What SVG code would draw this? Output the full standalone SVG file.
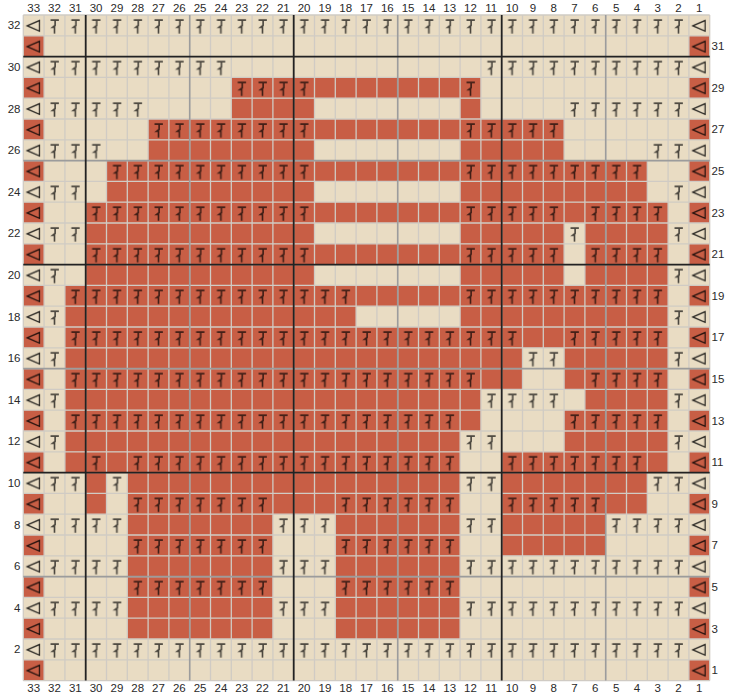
<svg xmlns="http://www.w3.org/2000/svg" width="729" height="696" viewBox="0 0 729 696">
<style>
text{font-family:"Liberation Sans",Arial,Helvetica,sans-serif;font-size:11.5px;fill:#2a2a2a}
.c{text-anchor:middle}
.l{text-anchor:end}
</style>
<defs>
<pattern id="sym" patternUnits="userSpaceOnUse" width="1" height="1">
<path d="M0.31 0.245H0.71M0.53 0.245V0.5L0.41 0.59H0.53M0.5 0.55V0.89" fill="none" stroke="#000" stroke-opacity="0.68" stroke-width="0.078"/>
</pattern>
<pattern id="tri" patternUnits="userSpaceOnUse" width="1" height="1">
<path d="M0.19 0.52L0.78 0.265V0.775Z" fill="none" stroke="#000" stroke-opacity="0.82" stroke-width="0.06"/>
</pattern>
<pattern id="edge" patternUnits="userSpaceOnUse" width="1" height="2">
<rect y="1" width="1" height="1" fill="#C85E45"/>
</pattern>
</defs>
<g id="chart" transform="translate(23.3 15) scale(20.8)">
<rect width="33" height="32" fill="#E9DCC3"/>
<g id="red-cells" fill="#C85E45">
<rect x="10" y="3" width="12" height="1"/>
<rect x="10" y="4" width="4" height="1"/><rect x="21" y="4" width="1" height="1"/>
<rect x="6" y="5" width="20" height="1"/>
<rect x="6" y="6" width="8" height="1"/><rect x="21" y="6" width="5" height="1"/>
<rect x="4" y="7" width="26" height="1"/>
<rect x="4" y="8" width="10" height="1"/><rect x="21" y="8" width="9" height="1"/>
<rect x="3" y="9" width="28" height="1"/>
<rect x="3" y="10" width="11" height="1"/><rect x="21" y="10" width="5" height="1"/><rect x="27" y="10" width="4" height="1"/>
<rect x="3" y="11" width="23" height="1"/><rect x="27" y="11" width="4" height="1"/>
<rect x="3" y="12" width="11" height="1"/><rect x="21" y="12" width="5" height="1"/><rect x="27" y="12" width="4" height="1"/>
<rect x="2" y="13" width="29" height="1"/>
<rect x="2" y="14" width="14" height="1"/><rect x="21" y="14" width="10" height="1"/>
<rect x="2" y="15" width="29" height="1"/>
<rect x="2" y="16" width="22" height="2"/><rect x="26" y="16" width="5" height="2"/>
<rect x="2" y="18" width="20" height="1"/><rect x="27" y="18" width="4" height="1"/>
<rect x="2" y="19" width="20" height="1"/><rect x="26" y="19" width="5" height="1"/>
<rect x="2" y="20" width="19" height="1"/><rect x="26" y="20" width="5" height="1"/>
<rect x="2" y="21" width="19" height="1"/><rect x="23" y="21" width="8" height="1"/>
<rect x="3" y="22" width="1" height="2"/><rect x="5" y="22" width="16" height="2"/><rect x="23" y="22" width="7" height="2"/>
<rect x="5" y="24" width="7" height="2"/><rect x="15" y="24" width="6" height="2"/><rect x="23" y="24" width="5" height="2"/>
<rect x="5" y="26" width="7" height="4"/><rect x="15" y="26" width="6" height="4"/>
</g>
<g id="edge-cells" fill="url(#edge)">
<rect x="0" y="0" width="1" height="32"/><rect x="32" y="0" width="1" height="32"/>
</g>
<g id="grid">
<path fill="none" stroke="#d0cbc4" stroke-width="1.3" vector-effect="non-scaling-stroke" d="M0 0V32M1 0V32M2 0V32M3 0V32M4 0V32M5 0V32M6 0V32M7 0V32M8 0V32M9 0V32M10 0V32M11 0V32M12 0V32M13 0V32M14 0V32M15 0V32M16 0V32M17 0V32M18 0V32M19 0V32M20 0V32M21 0V32M22 0V32M23 0V32M24 0V32M25 0V32M26 0V32M27 0V32M28 0V32M29 0V32M30 0V32M31 0V32M32 0V32M33 0V32M0 0H33M0 1H33M0 2H33M0 3H33M0 4H33M0 5H33M0 6H33M0 7H33M0 8H33M0 9H33M0 10H33M0 11H33M0 12H33M0 13H33M0 14H33M0 15H33M0 16H33M0 17H33M0 18H33M0 19H33M0 20H33M0 21H33M0 22H33M0 23H33M0 24H33M0 25H33M0 26H33M0 27H33M0 28H33M0 29H33M0 30H33M0 31H33M0 32H33"/>
<path fill="none" stroke="#9c9c9c" stroke-width="1.6" vector-effect="non-scaling-stroke" d="M8 0V32M18 0V32M28 0V32M0 7H33M0 17H33M0 27H33"/>
<path fill="none" stroke="#222" stroke-width="1.8" vector-effect="non-scaling-stroke" d="M3 0V32M13 0V32M23 0V32M0 2H33M0 12H33M0 22H33"/>
</g>
<g id="stitches" fill="url(#sym)">
<rect x="1" y="0" width="31" height="1"/>
<rect x="1" y="2" width="9" height="1"/><rect x="22" y="2" width="10" height="1"/>
<rect x="10" y="3" width="4" height="1"/><rect x="21" y="3" width="1" height="1"/>
<rect x="1" y="4" width="5" height="1"/><rect x="26" y="4" width="6" height="1"/>
<rect x="6" y="5" width="8" height="1"/><rect x="21" y="5" width="5" height="1"/>
<rect x="1" y="6" width="3" height="1"/><rect x="30" y="6" width="2" height="1"/>
<rect x="4" y="7" width="10" height="1"/><rect x="21" y="7" width="9" height="1"/>
<rect x="1" y="8" width="2" height="1"/><rect x="31" y="8" width="1" height="1"/>
<rect x="3" y="9" width="11" height="1"/><rect x="21" y="9" width="5" height="1"/><rect x="27" y="9" width="4" height="1"/>
<rect x="1" y="10" width="2" height="1"/><rect x="26" y="10" width="1" height="1"/><rect x="31" y="10" width="1" height="1"/>
<rect x="3" y="11" width="11" height="1"/><rect x="21" y="11" width="5" height="1"/><rect x="27" y="11" width="4" height="1"/>
<rect x="1" y="12" width="1" height="1"/><rect x="31" y="12" width="1" height="1"/>
<rect x="2" y="13" width="14" height="1"/><rect x="21" y="13" width="10" height="1"/>
<rect x="1" y="14" width="1" height="1"/><rect x="31" y="14" width="1" height="1"/>
<rect x="2" y="15" width="22" height="1"/><rect x="26" y="15" width="5" height="1"/>
<rect x="1" y="16" width="1" height="1"/><rect x="24" y="16" width="2" height="1"/><rect x="31" y="16" width="1" height="1"/>
<rect x="2" y="17" width="20" height="1"/><rect x="27" y="17" width="4" height="1"/>
<rect x="1" y="18" width="1" height="1"/><rect x="22" y="18" width="4" height="1"/><rect x="31" y="18" width="1" height="1"/>
<rect x="2" y="19" width="19" height="1"/><rect x="26" y="19" width="5" height="1"/>
<rect x="1" y="20" width="1" height="1"/><rect x="21" y="20" width="2" height="1"/><rect x="31" y="20" width="1" height="1"/>
<rect x="3" y="21" width="1" height="1"/><rect x="5" y="21" width="16" height="1"/><rect x="23" y="21" width="7" height="1"/>
<rect x="1" y="22" width="2" height="1"/><rect x="4" y="22" width="1" height="1"/><rect x="21" y="22" width="2" height="1"/><rect x="30" y="22" width="2" height="1"/>
<rect x="5" y="23" width="7" height="1"/><rect x="15" y="23" width="6" height="1"/><rect x="23" y="23" width="5" height="1"/>
<rect x="1" y="24" width="4" height="1"/><rect x="12" y="24" width="3" height="1"/><rect x="21" y="24" width="2" height="1"/><rect x="28" y="24" width="4" height="1"/>
<rect x="5" y="25" width="7" height="1"/><rect x="15" y="25" width="6" height="1"/>
<rect x="1" y="26" width="4" height="1"/><rect x="12" y="26" width="3" height="1"/><rect x="21" y="26" width="11" height="1"/>
<rect x="5" y="27" width="7" height="1"/><rect x="15" y="27" width="6" height="1"/>
<rect x="1" y="28" width="4" height="1"/><rect x="12" y="28" width="3" height="1"/><rect x="21" y="28" width="11" height="1"/>
<rect x="1" y="30" width="31" height="1"/>
</g>
<g id="edge-marks" fill="url(#tri)">
<rect x="0" y="0" width="1" height="32"/><rect x="32" y="0" width="1" height="32"/>
</g>
</g>
<g id="col-top" class="c">
<text x="33.7" y="12">33</text><text x="54.5" y="12">32</text><text x="75.3" y="12">31</text><text x="96.1" y="12">30</text><text x="116.9" y="12">29</text><text x="137.7" y="12">28</text><text x="158.5" y="12">27</text><text x="179.3" y="12">26</text><text x="200.1" y="12">25</text><text x="220.9" y="12">24</text><text x="241.7" y="12">23</text><text x="262.5" y="12">22</text><text x="283.3" y="12">21</text><text x="304.1" y="12">20</text><text x="324.9" y="12">19</text><text x="345.7" y="12">18</text><text x="366.5" y="12">17</text><text x="387.3" y="12">16</text><text x="408.1" y="12">15</text><text x="428.9" y="12">14</text><text x="449.7" y="12">13</text><text x="470.5" y="12">12</text><text x="491.3" y="12">11</text><text x="512.1" y="12">10</text><text x="532.9" y="12">9</text><text x="553.7" y="12">8</text><text x="574.5" y="12">7</text><text x="595.3" y="12">6</text><text x="616.1" y="12">5</text><text x="636.9" y="12">4</text><text x="657.7" y="12">3</text><text x="678.5" y="12">2</text><text x="699.3" y="12">1</text>
</g>
<g id="col-bottom" class="c">
<text x="33.7" y="692.4">33</text><text x="54.5" y="692.4">32</text><text x="75.3" y="692.4">31</text><text x="96.1" y="692.4">30</text><text x="116.9" y="692.4">29</text><text x="137.7" y="692.4">28</text><text x="158.5" y="692.4">27</text><text x="179.3" y="692.4">26</text><text x="200.1" y="692.4">25</text><text x="220.9" y="692.4">24</text><text x="241.7" y="692.4">23</text><text x="262.5" y="692.4">22</text><text x="283.3" y="692.4">21</text><text x="304.1" y="692.4">20</text><text x="324.9" y="692.4">19</text><text x="345.7" y="692.4">18</text><text x="366.5" y="692.4">17</text><text x="387.3" y="692.4">16</text><text x="408.1" y="692.4">15</text><text x="428.9" y="692.4">14</text><text x="449.7" y="692.4">13</text><text x="470.5" y="692.4">12</text><text x="491.3" y="692.4">11</text><text x="512.1" y="692.4">10</text><text x="532.9" y="692.4">9</text><text x="553.7" y="692.4">8</text><text x="574.5" y="692.4">7</text><text x="595.3" y="692.4">6</text><text x="616.1" y="692.4">5</text><text x="636.9" y="692.4">4</text><text x="657.7" y="692.4">3</text><text x="678.5" y="692.4">2</text><text x="699.3" y="692.4">1</text>
</g>
<g id="row-left" class="l">
<text x="20.5" y="29.4">32</text><text x="20.5" y="71">30</text><text x="20.5" y="112.6">28</text><text x="20.5" y="154.2">26</text><text x="20.5" y="195.8">24</text><text x="20.5" y="237.4">22</text><text x="20.5" y="279">20</text><text x="20.5" y="320.6">18</text><text x="20.5" y="362.2">16</text><text x="20.5" y="403.8">14</text><text x="20.5" y="445.4">12</text><text x="20.5" y="487">10</text><text x="20.5" y="528.6">8</text><text x="20.5" y="570.2">6</text><text x="20.5" y="611.8">4</text><text x="20.5" y="653.4">2</text>
</g>
<g id="row-right">
<text x="711.5" y="50.2">31</text><text x="711.5" y="91.8">29</text><text x="711.5" y="133.4">27</text><text x="711.5" y="175">25</text><text x="711.5" y="216.6">23</text><text x="711.5" y="258.2">21</text><text x="711.5" y="299.8">19</text><text x="711.5" y="341.4">17</text><text x="711.5" y="383">15</text><text x="711.5" y="424.6">13</text><text x="711.5" y="466.2">11</text><text x="711.5" y="507.8">9</text><text x="711.5" y="549.4">7</text><text x="711.5" y="591">5</text><text x="711.5" y="632.6">3</text><text x="711.5" y="674.2">1</text>
</g>
</svg>
